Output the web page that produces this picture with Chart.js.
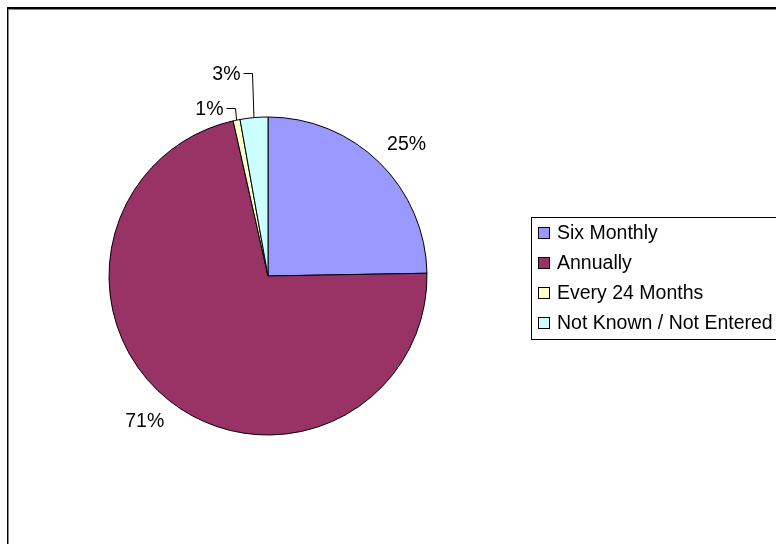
<!DOCTYPE html>
<html>
<head>
<meta charset="utf-8">
<script src="https://cdn.jsdelivr.net/npm/chart.js@4"></script>
<style>
  html, body { margin: 0; padding: 0; background: #fff; }
  #wrap { width: 776px; height: 544px; position: relative; }
</style>
</head>
<body>
<div id="wrap"><canvas id="pie"></canvas></div>
<script>
// values (shares of records, %)
const categories = ['Six Monthly', 'Annually', 'Every 24 Months', 'Not Known / Not Entered'];
const shares = [24.6, 71.4, 0.7, 2.8];
const pctLabels = ['25%', '71%', '1%', '3%'];
const colours = ['#9999FF', '#993366', '#FFFFCC', '#CCFFFF'];

const FONT = '"Liberation Sans", Arial, sans-serif';

// outer chart frame, top/left edges visible only
const framePlugin = {
  id: 'frame',
  beforeDraw(chart) {
    const ctx = chart.ctx;
    ctx.save();
    ctx.fillStyle = '#000';
    ctx.fillRect(7, 7, chart.width, 2);
    ctx.fillRect(7, 7, 1, chart.height);
    ctx.fillStyle = '#888';
    ctx.fillRect(8, 9, chart.width, 1);
    ctx.fillRect(8, 9, 1, chart.height);
    ctx.restore();
  }
};

// percentage labels, small slices get an elbow leader line
const labelPlugin = {
  id: 'pctLabels',
  afterDatasetsDraw(chart, args, opts) {
    const ctx = chart.ctx;
    const arcs = chart.getDatasetMeta(0).data;
    ctx.save();
    ctx.font = opts.size + 'px ' + FONT;
    ctx.fillStyle = '#000';
    ctx.strokeStyle = '#000';
    ctx.lineWidth = 1;
    ctx.textBaseline = 'middle';
    arcs.forEach((arc, i) => {
      const p = arc.getProps(['x', 'y', 'startAngle', 'endAngle', 'outerRadius'], true);
      const mid = (p.startAngle + p.endAngle) / 2;
      const rise = opts.leaders[i];
      if (!rise) {
        // excel nudges these a touch clockwise
        const a = mid + opts.turn * Math.PI / 180;
        const d = p.outerRadius + 32;
        ctx.textAlign = 'center';
        ctx.fillText(pctLabels[i], p.x + Math.cos(a) * d, p.y + Math.sin(a) * d);
        return;
      }
      const ax = p.x + Math.cos(mid) * p.outerRadius;
      const ay = p.y + Math.sin(mid) * p.outerRadius;
      const ex = Math.round(ax - 2) + 0.5;
      const ey = Math.round(p.y - p.outerRadius - rise) + 0.5;
      ctx.beginPath();
      ctx.moveTo(ax, ay);
      ctx.lineTo(ex, ey);
      ctx.lineTo(ex - 9, ey);
      ctx.stroke();
      ctx.textAlign = 'right';
      ctx.fillText(pctLabels[i], ex - 12, ey + 1);
    });
    ctx.restore();
  }
};

// boxed legend at the right
const legendPlugin = {
  id: 'boxLegend',
  afterDraw(chart, args, opts) {
    const ctx = chart.ctx;
    const rowH = opts.rowH;
    ctx.save();
    ctx.strokeStyle = '#000';
    ctx.lineWidth = 1;
    ctx.strokeRect(opts.x + 0.5, opts.y + 0.5, 400, rowH * (categories.length - 1) + 32);
    ctx.font = opts.size + 'px ' + FONT;
    ctx.textBaseline = 'middle';
    ctx.textAlign = 'left';
    categories.forEach((c, i) => {
      const cy = opts.y + 16 + rowH * i;
      const top = Math.round(cy - 6);
      ctx.fillStyle = colours[i];
      ctx.fillRect(opts.x + 7, top, 12, 12);
      ctx.strokeRect(opts.x + 7.5, top + 0.5, 11, 11);
      ctx.fillStyle = '#000';
      ctx.fillText(c, opts.x + 26, cy + 1);
    });
    ctx.restore();
  }
};

new Chart(document.getElementById('pie'), {
  type: 'pie',
  data: {
    labels: categories,
    datasets: [{
      data: shares,
      backgroundColor: colours,
      borderColor: '#000',
      borderWidth: 1
    }]
  },
  options: {
    responsive: true,
    maintainAspectRatio: false,
    animation: false,
    radius: 159,
    layout: { padding: { left: 0, right: 240, top: 8, bottom: 0 } },
    plugins: {
      legend: { display: false },
      tooltip: { enabled: false },
      pctLabels: { size: 19.5, leaders: [0, 0, 9, 44], turn: 2 },
      boxLegend: { x: 531, y: 217, size: 19.5, rowH: 30 }
    }
  },
  plugins: [framePlugin, labelPlugin, legendPlugin]
});
</script>
</body>
</html>
